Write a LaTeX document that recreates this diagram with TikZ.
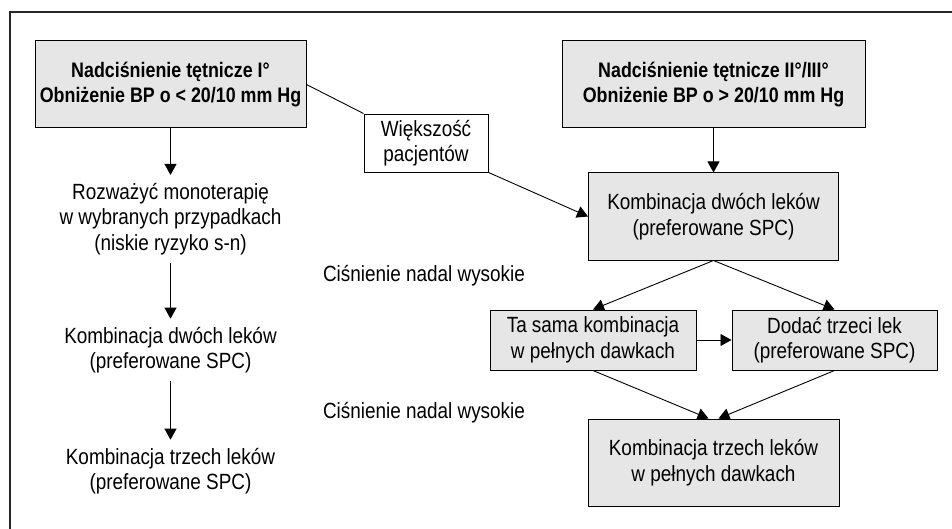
\documentclass[tikz,border=0pt]{standalone}
\usepackage{fontspec}
\setmainfont[FakeStretch=0.86]{Liberation Sans}
\newfontfamily\headfont[FakeStretch=0.85]{Liberation Sans}
\usetikzlibrary{arrows.meta}
\definecolor{boxgray}{RGB}{230,230,231}

\begin{document}
\begin{tikzpicture}[x=1pt, y=-1pt,
        every node/.style={font=\fontsize{22}{25.5}\selectfont},
        gbox/.style={draw, line width=1pt, fill=boxgray, inner sep=0pt, align=center},
        head/.style={gbox, minimum height=87pt, font=\fontsize{21}{25}\headfont\bfseries},
        wbox/.style={draw, line width=0.9pt, fill=white, inner sep=0pt, align=center},
        txt/.style={inner sep=8pt, align=center},
        arr/.style={line width=0.9pt, -{Triangle[length=11pt,width=12pt]}}]
        \useasboundingbox (0,0) rectangle (952,529);
        \draw [line width=1.6pt, black!85] (10,529) -- (10,12) -- (952,12);
        \node [head, minimum width=271pt] (st1) at (170.5,84.5) {Nadciśnienie tętnicze I°\\Obniżenie BP o < 20/10 mm Hg};
        \node [head, minimum width=303pt] (st23) at (713.5,84.5) {Nadciśnienie tętnicze II°/III°\\Obniżenie BP o > 20/10 mm Hg};
        \node [wbox, minimum width=124pt, minimum height=58pt] (most) at (426,143) {Większość\\pacjentów};
        \node [gbox, minimum width=250pt, minimum height=87pt] (two) at (713.5,216.5) {Kombinacja dwóch leków\\(preferowane SPC)};
        \node [gbox, minimum width=206pt, minimum height=60pt] (full) at (593,340) {Ta sama kombinacja\\w pełnych dawkach};
        \node [gbox, minimum width=205pt, minimum height=60pt] (third) at (834.5,340) {Dodać trzeci lek\\(preferowane SPC)};
        \node [gbox, minimum width=251pt, minimum height=87pt] (three) at (713.5,462.5) {Kombinacja trzech leków\\w pełnych dawkach};
        \node [txt] (mono) at (170.5,219) {Rozważyć monoterapię\\w wybranych przypadkach\\(niskie ryzyko s-n)};
        \node [txt] (twoL) at (170.5,350) {Kombinacja dwóch leków\\(preferowane SPC)};
        \node [txt] (threeL) at (170.5,471) {Kombinacja trzech leków\\(preferowane SPC)};
        \node (high1) at (424,276) {Ciśnienie nadal wysokie};
        \node (high2) at (424,413) {Ciśnienie nadal wysokie};
        \draw [arr] (st1) -- (mono);
        \draw [arr] (mono) -- (twoL);
        \draw [arr] (twoL) -- (threeL);
        \draw [line width=0.9pt] (st1.east) -- (most.north west);
        \draw [arr] (most.south east) -- (two.west);
        \draw [arr] (st23) -- (two);
        \draw [arr] (two.south) -- (full.north);
        \draw [arr] (two.south) -- (third.north);
        \draw [arr] (full) -- (third);
        \draw [arr] (full.south) -- ([xshift=-5pt]three.north);
        \draw [arr] (third.south) -- ([xshift=5pt]three.north);
\end{tikzpicture}
\end{document}
